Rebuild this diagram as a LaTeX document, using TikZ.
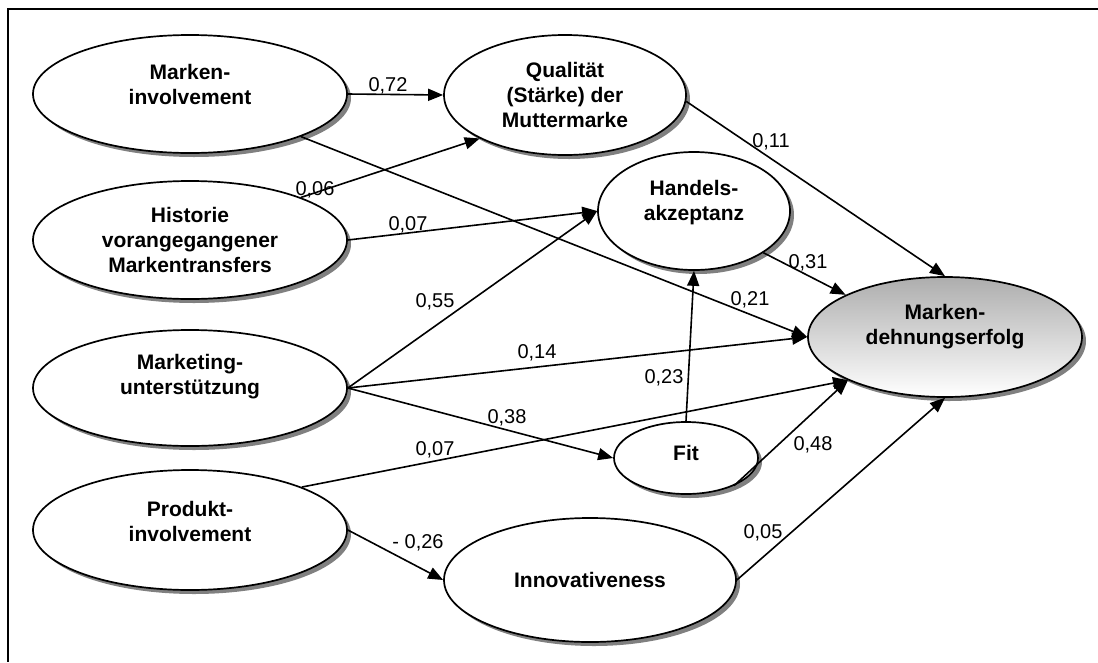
\documentclass[tikz,border=0pt]{standalone}
\usepackage{fontspec}
\setmainfont{Liberation Sans}
\usetikzlibrary{shapes.geometric,shadows,arrows.meta}
\begin{document}
\begin{tikzpicture}[x=1pt,y=-1pt,
  var/.style={ellipse, draw, line width=1.7pt, fill=white, inner sep=0pt,
    drop shadow={shadow xshift=4pt, shadow yshift=-4pt, fill=black!50, opacity=1}},
  vtxt/.style={font=\bfseries\fontsize{21}{25}\selectfont, align=center, inner sep=0pt},
  coef/.style={font=\fontsize{20}{24}\selectfont, inner sep=0pt, anchor=base},
  eff/.style={line width=1.6pt, -{Triangle[length=15pt,width=12pt]}}
]
\useasboundingbox (0,0) rectangle (1098,662);
% frame
\draw[line width=2.4pt] (1098,9) -- (8,9) -- (8,662);

% latent variables
\node[var, minimum width=314pt, minimum height=118pt,
  label={[vtxt,yshift=10pt]center:{Marken-\\involvement}}] (mi) at (190,94) {};
\node[var, minimum width=314pt, minimum height=118pt,
  label={[vtxt]center:{Historie\\vorangegangener\\Markentransfers}}] (hi) at (190,240) {};
\node[var, minimum width=314pt, minimum height=116pt,
  label={[vtxt,yshift=11pt]center:{Marketing-\\unterstützung}}] (mu) at (190,388) {};
\node[var, minimum width=314pt, minimum height=120pt,
  label={[vtxt,yshift=9pt]center:{Produkt-\\involvement}}] (pi) at (190,530) {};
\node[var, minimum width=242pt, minimum height=120pt,
  label={[vtxt]center:{Qualität\\(Stärke) der\\Muttermarke}}] (qu) at (565,95) {};
\node[var, minimum width=192pt, minimum height=118pt,
  label={[vtxt,yshift=8pt]center:{Handels-\\akzeptanz}}] (ha) at (694,211) {};
\node[var, minimum width=144pt, minimum height=72pt,
  label={[vtxt,yshift=5pt]center:{Fit}}] (fit) at (686,458) {};
\node[var, minimum width=292pt, minimum height=124pt,
  label={[vtxt]center:{Innovativeness}}] (in) at (590,580) {};
\node[var, top color=black!32, bottom color=white, minimum width=274pt, minimum height=120pt,
  label={[vtxt,yshift=10pt]center:{Marken-\\dehnungserfolg}}] (md) at (945,337) {};

% paths
\draw[eff] (mi.east) -- (qu.west);
\draw[eff] (hi.21) -- (qu.207);
\draw[eff] (hi.east) -- (ha.west);
\draw[eff] (mi.-21) -- (md.west);
\draw[eff] (mu.east) -- (ha.west);
\draw[eff] (mu.east) -- (md.west);
\draw[eff] (mu.east) -- (fit.west);
\draw[eff] (pi.21) -- (md.204);
\draw[eff] (fit.-30) -- (md.204);
\draw[eff] (fit.north) -- (ha.south);
\draw[eff] (pi.east) -- (in.west);
\draw[eff] (qu.-3) -- (md.north);
\draw[eff] (ha.-31) -- (md.157);
\draw[eff] (in.east) -- (md.south);

% path coefficients
\node[coef] (c1) at (388,91) {0,72};
\node[coef] (c2) at (315,195) {0,06};
\node[coef] (c3) at (408,230) {0,07};
\node[coef] (c4) at (435,307) {0,55};
\node[coef] (c5) at (750,305) {0,21};
\node[coef] (c6) at (537,358) {0,14};
\node[coef] (c7) at (664,383) {0,23};
\node[coef] (c8) at (507,423) {0,38};
\node[coef] (c9) at (435,455) {0,07};
\node[coef] (c10) at (418,548) {- 0,26};
\node[coef] (c11) at (763,538) {0,05};
\node[coef] (c12) at (813,450) {0,48};
\node[coef] (c13) at (808,268) {0,31};
\node[coef] (c14) at (771,147) {0,11};
\end{tikzpicture}
\end{document}
